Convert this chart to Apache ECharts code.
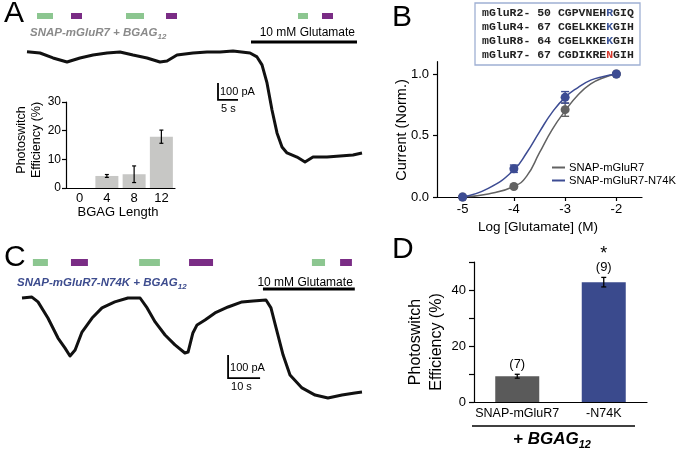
<!DOCTYPE html>
<html><head><meta charset="utf-8">
<script src="https://cdn.jsdelivr.net/npm/echarts@6/dist/echarts.min.js"></script>
<style>html,body{margin:0;padding:0;background:#fff}#c{width:677px;height:453px}</style>
</head><body><div id="c"></div>
<script>
// ---------- Panel A trace (time s, current pA) ----------
const traceA_t  = [0, 3.25, 6.5, 10, 13.25, 16.5, 20, 23.25, 26.5, 30, 33.25, 35, 37.5, 41.5, 45, 48.25, 51.5, 55.75, 57.5, 58.75, 60, 61.25, 62.5, 63.75, 65, 67.5, 69.5, 71.5, 75, 78.25, 81.5, 83.75];
const traceA_pA = [2, -6, -35, -59, -35, -18, -6, 0, -18, -35, -59, -53, -18, -6, 0, 0, 6, -6, -29, -76, -182, -341, -476, -559, -594, -618, -647, -618, -618, -612, -606, -594];
// light pulses [start s, end s, type 0=green 1=violet]
const lightA = [[2.5, 6.5, 0], [11, 13.75, 1], [24.75, 29.25, 0], [34.75, 37.5, 1], [67.75, 70.25, 0], [73.75, 76.5, 1]];
const glutA = [56, 82.5];
const scaleA = [47.75, -282, 5, 100]; // t0, I0, seconds, pA

// ---------- Panel A inset ----------
const insetCats = ['0', '4', '8', '12'];
const insetVals = [0, 4.2, 4.8, 17.9];
const insetErr  = [0, 0.5, 2.9, 2.3];

// ---------- Panel B ----------
const seqLines = [
  ['mGluR2- 50 CGPVNEH', 'R', 'GIQ', 'b'],
  ['mGluR4- 67 CGELKKE', 'K', 'GIH', 'b'],
  ['mGluR8- 64 CGELKKE', 'K', 'GIH', 'b'],
  ['mGluR7- 67 CGDIKRE', 'N', 'GIH', 'r']
];
const logGlu = [-5, -4, -3, -2];
const wtMean = [0, 0.085, 0.71, 1.0];
const wtErr  = [0, 0, 0.054, 0];
const mutMean = [0, 0.23, 0.81, 1.0];
const mutErr  = [0, 0.03, 0.047, 0];
const fitX   = [-5, -4.5, -4, -3.75, -3.5, -3.25, -3, -2.75, -2.5, -2.25, -2];
const fitWt  = [0, 0.025, 0.085, 0.17, 0.36, 0.55, 0.70, 0.83, 0.92, 0.97, 1.0];
const fitMut = [0, 0.07, 0.22, 0.36, 0.53, 0.69, 0.81, 0.89, 0.95, 0.98, 1.0];
const xTicksB = [-5, -4, -3, -2];
const yTicksB = [0, 0.5, 1.0];

// ---------- Panel C trace ----------
const traceC_t  = [0, 3.1, 5, 8.1, 11.25, 13.4, 15, 16.6, 18.75, 21.9, 25, 29, 33.1, 36.9, 39.1, 41.6, 44.7, 47.8, 50.9, 51.9, 53.4, 54.7, 57.2, 60.3, 64.4, 68.75, 72.2, 76.25, 77.8, 79.4, 81.6, 83.75, 87.5, 91.6, 95.6, 100, 104, 106.25];
const traceC_pA = [0, 4, -17, -87, -174, -217, -252, -226, -148, -87, -43, -17, 0, 0, -43, -104, -161, -204, -239, -235, -152, -117, -96, -65, -39, -17, -13, -9, -43, -130, -248, -335, -391, -422, -435, -422, -413, -409];
const lightC = [[3.4, 8.1, 0], [15.3, 20.6, 1], [36.6, 43.1, 0], [52.2, 59.7, 1], [90.6, 94.7, 0], [99.4, 103.1, 1]];
const glutC = [75.3, 104];
const scaleC = [64.4, -348, 10, 100];

// ---------- Panel D ----------
const dCats = ['SNAP-mGluR7', '-N74K'];
const dVals = [9.2, 42.8];
const dErr  = [0.7, 1.7];
const dN    = ['(7)', '(9)'];
const dSig  = ['', '*'];

// ---------- styles ----------
const FF = 'Liberation Sans, Arial, sans-serif';
const lightColors = ['#8cc690', '#7a2c85'];
const GRAY = '#626262', BLUE = '#3d4c93';

const axLine = {lineStyle: {color: '#000', width: 1.2}};
const axTick = {length: 4, lineStyle: {color: '#000', width: 1.2}};
const lbl = (fs, m) => ({color: '#000', fontSize: fs, fontFamily: FF, margin: m});

function pulseRender(y, h) {
  return function (params, api) {
    const a = api.coord([api.value(0), 0]);
    const b = api.coord([api.value(1), 0]);
    return {type: 'rect', shape: {x: a[0], y: y, width: b[0] - a[0], height: h},
            style: {fill: lightColors[api.value(2)]}};
  };
}
function glutRender(y, ty) {
  return function (params, api) {
    const a = api.coord([api.value(0), 0]);
    const b = api.coord([api.value(1), 0]);
    return {type: 'group', children: [
      {type: 'line', shape: {x1: a[0], y1: y, x2: b[0], y2: y}, style: {stroke: '#000', lineWidth: 3}},
      {type: 'text', x: b[0] - 2, y: ty, style: {text: '10 mM Glutamate', fill: '#000', fontSize: 12, fontFamily: FF, align: 'right', verticalAlign: 'middle'}}
    ]};
  };
}
function scaleRender() {
  return function (params, api) {
    const t0 = api.value(0), i0 = api.value(1), dt = api.value(2), di = api.value(3);
    const top = api.coord([t0, i0 + di]), c = api.coord([t0, i0]), r = api.coord([t0 + dt, i0]);
    return {type: 'group', children: [
      {type: 'polyline', shape: {points: [top, c, r]}, style: {stroke: '#000', lineWidth: 1.8, fill: null}},
      {type: 'text', x: c[0] + 2, y: (top[1] + c[1]) / 2 + 1, style: {text: di + ' pA', fill: '#000', fontSize: 11, fontFamily: FF, align: 'left', verticalAlign: 'middle'}},
      {type: 'text', x: c[0] + 3, y: c[1] + 9, style: {text: dt + ' s', fill: '#000', fontSize: 11, fontFamily: FF, align: 'left', verticalAlign: 'middle'}}
    ]};
  };
}
function errRender(cap, color, lw) {
  return function (params, api) {
    const x = api.value(0), lo = api.value(1), hi = api.value(2);
    if (hi - lo <= 0) return null;
    const pH = api.coord([x, hi]), pL = api.coord([x, lo]);
    const st = {stroke: color, lineWidth: lw};
    return {type: 'group', children: [
      {type: 'line', shape: {x1: pH[0], y1: pH[1], x2: pL[0], y2: pL[1]}, style: st},
      {type: 'line', shape: {x1: pH[0] - cap, y1: pH[1], x2: pH[0] + cap, y2: pH[1]}, style: st},
      {type: 'line', shape: {x1: pL[0] - cap, y1: pL[1], x2: pL[0] + cap, y2: pL[1]}, style: st}
    ]};
  };
}

const zip = (a, b) => a.map((v, i) => [v, b[i]]);
const errData = (xs, m, e) => xs.map((x, i) => [x, m[i] - e[i], m[i] + e[i]]);

const grids = [
  {left: 27, top: 9.5, width: 335, height: 161.5},     // A trace
  {left: 66, top: 102, width: 109, height: 86},        // A inset
  {left: 437, top: 61.7, width: 205, height: 135.3},   // B
  {left: 22, top: 252, width: 340, height: 161},       // C trace
  {left: 474, top: 262, width: 173, height: 140}       // D
].map(g => Object.assign({outerBoundsMode: 'none', containLabel: false}, g));

const hiddenAx = {show: false, splitLine: {show: false}};

const option = {
  animation: false,
  backgroundColor: '#fff',
  grid: grids,
  xAxis: [
    Object.assign({type: 'value', gridIndex: 0, min: 0, max: 83.75}, hiddenAx),
    {type: 'category', gridIndex: 1, data: insetCats, axisLine: axLine, axisTick: {show: false},
     axisLabel: Object.assign({interval: 0}, lbl(13, 4))},
    {type: 'value', gridIndex: 2, min: -5.5, max: -1.5, axisLine: Object.assign({onZero: false}, axLine),
     axisTick: Object.assign({customValues: xTicksB}, axTick),
     axisLabel: Object.assign({customValues: xTicksB}, lbl(13, 6)), splitLine: {show: false}},
    Object.assign({type: 'value', gridIndex: 3, min: 0, max: 106.25}, hiddenAx),
    {type: 'category', gridIndex: 4, data: dCats, axisLine: axLine, axisTick: {show: false},
     axisLabel: Object.assign({interval: 0, hideOverlap: false}, lbl(12.5, 5))}
  ],
  yAxis: [
    Object.assign({type: 'value', gridIndex: 0, min: -700, max: 250}, hiddenAx),
    {type: 'value', gridIndex: 1, min: 0, max: 30, interval: 10, axisLine: {show: true, lineStyle: axLine.lineStyle},
     axisTick: {show: true, length: 4, lineStyle: axTick.lineStyle}, axisLabel: lbl(12, 5), splitLine: {show: false}},
    {type: 'value', gridIndex: 2, min: 0, max: 1.1, axisLine: {show: true, onZero: false, lineStyle: axLine.lineStyle},
     axisTick: {show: true, customValues: yTicksB, length: 4, lineStyle: axTick.lineStyle},
     axisLabel: Object.assign({customValues: yTicksB, formatter: v => Number(v).toFixed(1)}, lbl(13, 8)),
     splitLine: {show: false}},
    Object.assign({type: 'value', gridIndex: 3, min: -500, max: 200}, hiddenAx),
    {type: 'value', gridIndex: 4, min: 0, max: 50, interval: 10, axisLine: {show: true, lineStyle: axLine.lineStyle},
     axisTick: {show: true, length: 5, lineStyle: axTick.lineStyle},
     axisLabel: Object.assign({formatter: v => (v % 20 === 0 && v < 50) ? String(v) : ''}, lbl(13, 8)),
     splitLine: {show: false}}
  ],
  legend: {
    left: 552, top: 162, orient: 'vertical', itemWidth: 13, itemHeight: 2, itemGap: 2, padding: 0,
    icon: 'rect',
    data: ['SNAP-mGluR7', 'SNAP-mGluR7-N74K'],
    textStyle: {fontSize: 11.2, fontFamily: FF, color: '#000', padding: [0, 0, 0, -1]}
  },
  series: [
    // Panel A
    {type: 'line', xAxisIndex: 0, yAxisIndex: 0, data: zip(traceA_t, traceA_pA), symbol: 'none',
     lineStyle: {color: '#111', width: 3, join: 'round'}, silent: true},
    {type: 'custom', xAxisIndex: 0, yAxisIndex: 0, data: lightA, encode: {x: [0, 1], y: 2}, renderItem: pulseRender(13, 6), clip: false},
    {type: 'custom', xAxisIndex: 0, yAxisIndex: 0, data: [glutA], encode: {x: [0, 1]}, renderItem: glutRender(42, 33), clip: false},
    {type: 'custom', xAxisIndex: 0, yAxisIndex: 0, data: [scaleA], encode: {x: 0, y: 1}, renderItem: scaleRender(), clip: false},
    // inset
    {type: 'bar', xAxisIndex: 1, yAxisIndex: 1, data: insetVals, barWidth: 23, itemStyle: {color: '#c7c7c5'}},
    {type: 'custom', xAxisIndex: 1, yAxisIndex: 1, data: errData([0, 1, 2, 3], insetVals, insetErr), encode: {x: 0, y: [1, 2]},
     renderItem: errRender(2, '#000', 1.2), z: 5},
    // Panel B
    {name: 'SNAP-mGluR7', type: 'line', xAxisIndex: 2, yAxisIndex: 2, data: zip(fitX, fitWt), smooth: true, symbol: 'none',
     lineStyle: {color: GRAY, width: 1.5}, itemStyle: {color: GRAY}},
    {name: 'SNAP-mGluR7-N74K', type: 'line', xAxisIndex: 2, yAxisIndex: 2, data: zip(fitX, fitMut), smooth: true, symbol: 'none',
     lineStyle: {color: BLUE, width: 1.5}, itemStyle: {color: BLUE}},
    {name: 'wt pts', type: 'scatter', xAxisIndex: 2, yAxisIndex: 2, data: zip(logGlu, wtMean), symbolSize: 9, itemStyle: {color: GRAY, opacity: 1}, z: 4},
    {name: 'mut pts', type: 'scatter', xAxisIndex: 2, yAxisIndex: 2, data: zip(logGlu, mutMean), symbolSize: 9, itemStyle: {color: BLUE, opacity: 1}, z: 4},
    {type: 'custom', xAxisIndex: 2, yAxisIndex: 2, data: errData(logGlu, wtMean, wtErr), encode: {x: 0, y: [1, 2]}, renderItem: errRender(4, GRAY, 1.4), z: 5},
    {type: 'custom', xAxisIndex: 2, yAxisIndex: 2, data: errData(logGlu, mutMean, mutErr), encode: {x: 0, y: [1, 2]}, renderItem: errRender(4, BLUE, 1.4), z: 5},
    // Panel C
    {type: 'line', xAxisIndex: 3, yAxisIndex: 3, data: zip(traceC_t, traceC_pA), symbol: 'none',
     lineStyle: {color: '#111', width: 3, join: 'round'}, silent: true},
    {type: 'custom', xAxisIndex: 3, yAxisIndex: 3, data: lightC, encode: {x: [0, 1], y: 2}, renderItem: pulseRender(259, 7), clip: false},
    {type: 'custom', xAxisIndex: 3, yAxisIndex: 3, data: [glutC], encode: {x: [0, 1]}, renderItem: glutRender(289, 283), clip: false},
    {type: 'custom', xAxisIndex: 3, yAxisIndex: 3, data: [scaleC], encode: {x: 0, y: 1}, renderItem: scaleRender(), clip: false},
    // Panel D
    {type: 'bar', xAxisIndex: 4, yAxisIndex: 4, barWidth: 44,
     data: dVals.map((v, i) => ({value: v, itemStyle: {color: i === 0 ? '#5a5a5a' : '#3a4a8d'}}))},
    {type: 'custom', xAxisIndex: 4, yAxisIndex: 4, data: errData([0, 1], dVals, dErr), encode: {x: 0, y: [1, 2]},
     renderItem: function (params, api) {
       const base = errRender(2.5, '#000', 1.3)(params, api);
       const p = api.coord([api.value(0), api.value(2)]);
       base.children.push({type: 'text', x: p[0], y: p[1] - 10, style: {text: dN[params.dataIndex], fill: '#000', fontSize: 13, fontFamily: FF, align: 'center', verticalAlign: 'middle'}});
       if (dSig[params.dataIndex]) base.children.push({type: 'text', x: p[0], y: p[1] - 23, style: {text: dSig[params.dataIndex], fill: '#000', fontSize: 18, fontFamily: FF, align: 'center', verticalAlign: 'middle'}});
       return base;
     }, z: 5, clip: false}
  ],
  graphic: [
    {type: 'text', x: 4, y: 14, style: {text: 'A', fontSize: 30, fontFamily: FF, fill: '#000', verticalAlign: 'middle'}},
    {type: 'text', x: 392, y: 18, style: {text: 'B', fontSize: 30, fontFamily: FF, fill: '#000', verticalAlign: 'middle'}},
    {type: 'text', x: 4, y: 258, style: {text: 'C', fontSize: 30, fontFamily: FF, fill: '#000', verticalAlign: 'middle'}},
    {type: 'text', x: 392, y: 250, style: {text: 'D', fontSize: 30, fontFamily: FF, fill: '#000', verticalAlign: 'middle'}},
    // titles
    {type: 'text', x: 30, y: 33, style: {text: '{m|SNAP-mGluR7 + BGAG}{s|12}', verticalAlign: 'middle',
      rich: {m: {fontSize: 11.5, fontWeight: 'bold', fontStyle: 'italic', fontFamily: FF, fill: '#8a8a8a', lineHeight: 16},
             s: {fontSize: 8, fontWeight: 'bold', fontStyle: 'italic', fontFamily: FF, fill: '#8a8a8a', lineHeight: 6, verticalAlign: 'bottom'}}}},
    {type: 'text', x: 17, y: 283, style: {text: '{m|SNAP-mGluR7-N74K + BGAG}{s|12}', verticalAlign: 'middle',
      rich: {m: {fontSize: 11.5, fontWeight: 'bold', fontStyle: 'italic', fontFamily: FF, fill: '#3d4c8e', lineHeight: 16},
             s: {fontSize: 8, fontWeight: 'bold', fontStyle: 'italic', fontFamily: FF, fill: '#3d4c8e', lineHeight: 6, verticalAlign: 'bottom'}}}},
    // axis names
    {type: 'text', x: 29.5, y: 140, rotation: Math.PI / 2, style: {text: 'Photoswitch\nEfficiency (%)', fontSize: 12.5, lineHeight: 15, fontFamily: FF, fill: '#000', align: 'center', verticalAlign: 'middle'}},
    {type: 'text', x: 118, y: 212, style: {text: 'BGAG Length', fontSize: 13, fontFamily: FF, fill: '#000', align: 'center', verticalAlign: 'middle'}},
    {type: 'text', x: 402, y: 130, rotation: Math.PI / 2, style: {text: 'Current (Norm.)', fontSize: 14.5, fontFamily: FF, fill: '#000', align: 'center', verticalAlign: 'middle'}},
    {type: 'text', x: 538, y: 227, style: {text: 'Log [Glutamate] (M)', fontSize: 13.5, fontFamily: FF, fill: '#000', align: 'center', verticalAlign: 'middle'}},
    {type: 'text', x: 426, y: 342, rotation: Math.PI / 2, style: {text: 'Photoswitch\nEfficiency (%)', fontSize: 16, lineHeight: 21, fontFamily: FF, fill: '#000', align: 'center', verticalAlign: 'middle'}},
    // sequence box
    {type: 'rect', shape: {x: 475, y: 3, width: 165, height: 62}, style: {fill: '#fff', stroke: '#9fb0d3', lineWidth: 1.3}},
    {type: 'text', x: 482, y: 34, style: {
      text: seqLines.map(l => '{n|' + l[0] + '}{' + l[3] + '|' + l[1] + '}{n|' + l[2] + '}').join('\n'),
      verticalAlign: 'middle',
      rich: {n: {fontFamily: 'Liberation Mono, Courier New, monospace', fontWeight: 'bold', fontSize: 11.5, fill: '#222', lineHeight: 14},
             b: {fontFamily: 'Liberation Mono, Courier New, monospace', fontWeight: 'bold', fontSize: 11.5, fill: '#3d5699', lineHeight: 14},
             r: {fontFamily: 'Liberation Mono, Courier New, monospace', fontWeight: 'bold', fontSize: 11.5, fill: '#d6382c', lineHeight: 14}}}},
    // D underline and BGAG label
    {type: 'line', shape: {x1: 472, y1: 426, x2: 635, y2: 426}, style: {stroke: '#000', lineWidth: 1.3}},
    {type: 'text', x: 552, y: 439, style: {text: '{m|+ BGAG}{s|12}', align: 'center', verticalAlign: 'middle',
      rich: {m: {fontSize: 17, fontWeight: 'bold', fontStyle: 'italic', fontFamily: FF, fill: '#000', lineHeight: 22},
             s: {fontSize: 11, fontWeight: 'bold', fontStyle: 'italic', fontFamily: FF, fill: '#000', lineHeight: 8, verticalAlign: 'bottom'}}}}
  ]
};
const chart = echarts.init(document.getElementById('c'), null, {renderer: 'canvas'});
chart.setOption(option);
</script></body></html>
